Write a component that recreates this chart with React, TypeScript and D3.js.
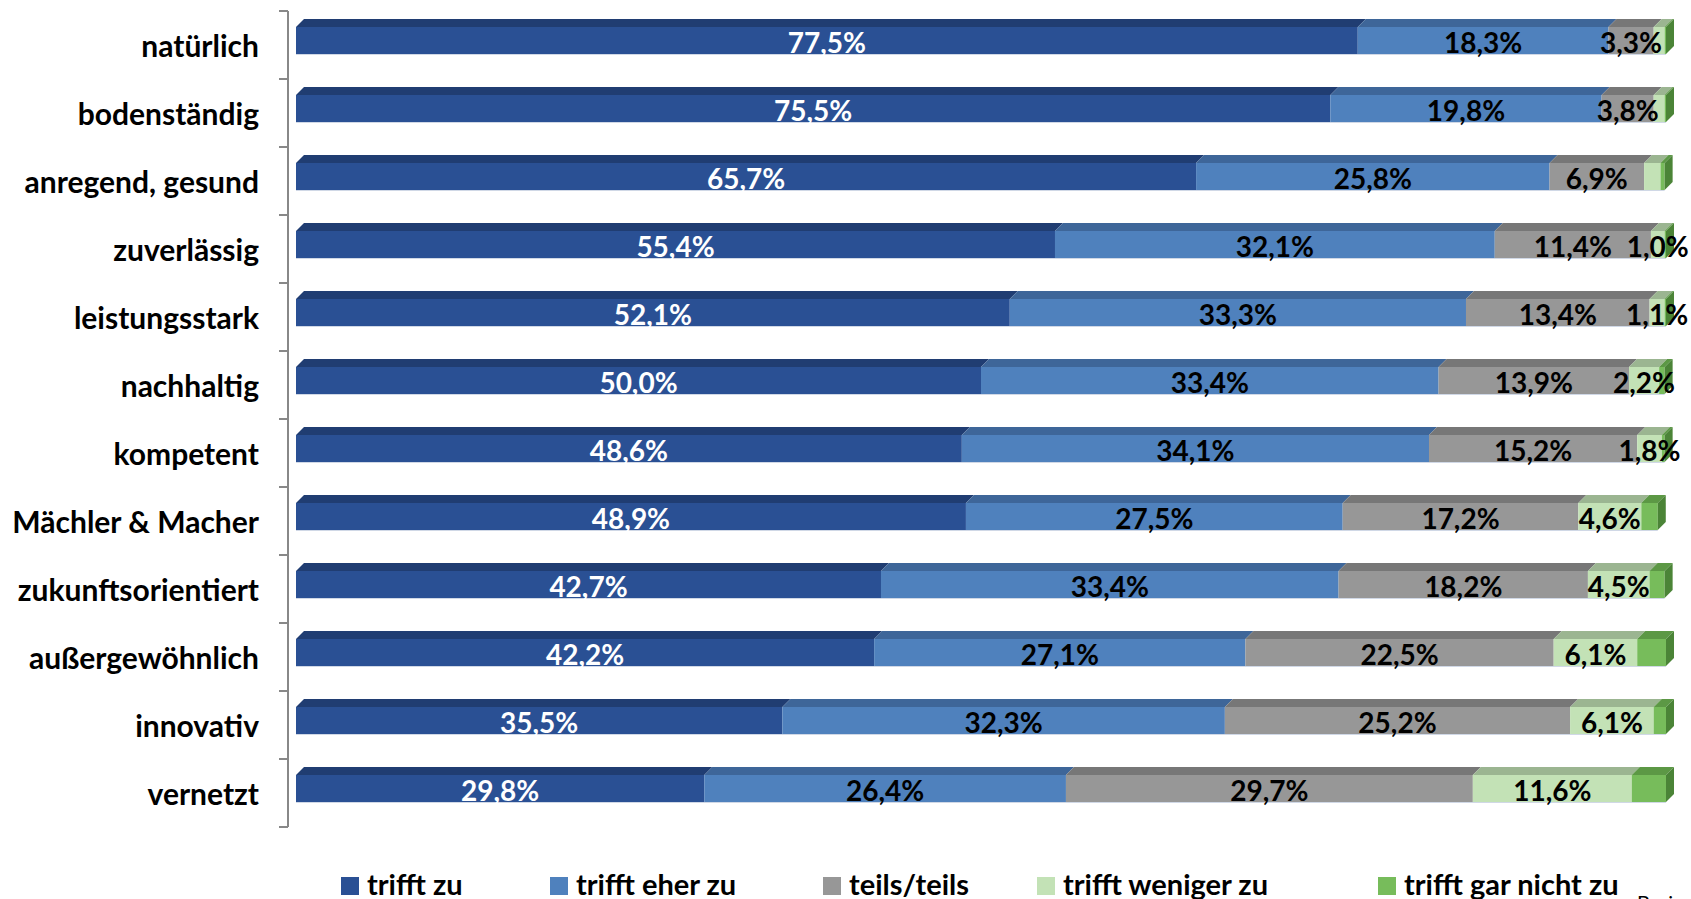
import React from "react";
import * as d3 from "d3";

const categories = [
  "natürlich",
  "bodenständig",
  "anregend, gesund",
  "zuverlässig",
  "leistungsstark",
  "nachhaltig",
  "kompetent",
  "Mächler & Macher",
  "zukunftsorientiert",
  "außergewöhnlich",
  "innovativ",
  "vernetzt",
];

const seriesNames = ["trifft zu", "trifft eher zu", "teils/teils", "trifft weniger zu", "trifft gar nicht zu"];

const triffZu = [77.5, 75.5, 65.7, 55.4, 52.1, 50.0, 48.6, 48.9, 42.7, 42.2, 35.5, 29.8];
const eherZu = [18.3, 19.8, 25.8, 32.1, 33.3, 33.4, 34.1, 27.5, 33.4, 27.1, 32.3, 26.4];
const teilsTeils = [3.3, 3.8, 6.9, 11.4, 13.4, 13.9, 15.2, 17.2, 18.2, 22.5, 25.2, 29.7];
const wenigerZu = [0.8, 0.8, 1.2, 1.0, 1.1, 2.2, 1.8, 4.6, 4.5, 6.1, 6.1, 11.6];
const garNichtZu = [0.1, 0.1, 0.3, 0.1, 0.1, 0.4, 0.2, 1.2, 1.1, 2.1, 0.9, 2.5];

// which values carry a data label (per series)
const showLabel = [
  categories.map(() => true),
  categories.map(() => true),
  categories.map(() => true),
  [false, false, false, true, true, true, true, true, true, true, true, true],
  categories.map(() => false),
];

const seriesValues = [triffZu, eherZu, teilsTeils, wenigerZu, garNichtZu];

const frontColors = ["#2a5094", "#4f81bd", "#979797", "#c3e2b6", "#77bc5b"];
const topColors = ["#203d72", "#3e6699", "#777777", "#9bb591", "#5c9845"];
const sideColor = "#4b8437";
const labelColors = ["#ffffff", "#000000", "#000000", "#000000", "#000000"];

const FONT = "Lato, 'Open Sans', sans-serif";

export default function App() {
  const W = 1691;
  const H = 899;
  const y = d3.scaleBand<string>().domain(categories).range([11, 827]).paddingInner(0);
  const x = d3.scaleLinear().domain([0, 100]).range([296, 1666]);
  const barH = 27;
  const barOff = 16;
  const dx = 8;
  const dy = 8;

  const rows = categories.map((cat, i) => {
    let acc = 0;
    const segs = seriesValues.map((vals, s) => {
      const v = vals[i];
      const x0 = x(acc);
      acc += v;
      const x1 = x(acc);
      return { s, v, x0, x1 };
    });
    return { cat, i, segs, top: (y(cat) as number) + barOff };
  });

  const legendX = [341, 550, 823, 1037, 1378];

  return (
    <div style={{ position: "absolute", left: 0, top: 0, width: W, height: H, overflow: "hidden", background: "#fff" }}>
      <svg width={W} height={H} style={{ display: "block" }}>
        <rect x={0} y={0} width={W} height={H} fill="#fff" />
        {/* axis */}
        <line x1={288} x2={288} y1={y.range()[0]} y2={y.range()[1]} stroke="#888" strokeWidth={2} />
        {[...categories.map((c) => y(c) as number), y.range()[1]].map((t, k) => (
          <line key={k} x1={279} x2={288} y1={t} y2={t} stroke="#888" strokeWidth={2} />
        ))}
        {/* category labels */}
        {categories.map((c) => (
          <text
            key={c}
            x={259}
            y={(y(c) as number) + y.bandwidth() / 2}
            textAnchor="end"
            dominantBaseline="central"
            fontFamily={FONT}
            fontWeight="bold"
            fontSize={30}
            fill="#000"
          >
            {c}
          </text>
        ))}
        {/* bars */}
        {rows.map((r) => (
          <g key={r.cat}>
            {r.segs.map((sg) => (
              <g key={sg.s}>
                <polygon
                  points={`${sg.x0},${r.top} ${sg.x0 + dx},${r.top - dy} ${sg.x1 + dx},${r.top - dy} ${sg.x1},${r.top}`}
                  fill={topColors[sg.s]}
                />
                <rect x={sg.x0} y={r.top} width={Math.max(0, sg.x1 - sg.x0)} height={barH} fill={frontColors[sg.s]} />
              </g>
            ))}
            {(() => {
              const last = r.segs[r.segs.length - 1];
              return (
                <polygon
                  points={`${last.x1},${r.top} ${last.x1 + dx},${r.top - dy} ${last.x1 + dx},${r.top + barH - dy} ${last.x1},${r.top + barH}`}
                  fill={sideColor}
                />
              );
            })()}
            <line x1={r.segs[0].x0} x2={r.segs[4].x1} y1={r.top + barH + 0.5} y2={r.top + barH + 0.5} stroke="#d0d8e6" strokeWidth={1} />
            {r.segs.map((sg) =>
              showLabel[sg.s][r.i] ? (
                <text
                  key={"l" + sg.s}
                  x={(sg.x0 + sg.x1) / 2}
                  y={r.top + barH / 2 + 1}
                  textAnchor="middle"
                  dominantBaseline="central"
                  fontFamily={FONT}
                  fontWeight="bold"
                  fontSize={28}
                  fill={labelColors[sg.s]}
                >
                  {sg.v.toFixed(1).replace(".", ",") + "%"}
                </text>
              ) : null
            )}
          </g>
        ))}
        {/* legend */}
        {seriesNames.map((n, s) => (
          <g key={n}>
            <rect x={legendX[s]} y={877} width={18} height={18} fill={frontColors[s]} />
            <text x={legendX[s] + 26} y={895} fontFamily={FONT} fontWeight="bold" fontSize={29} fill="#000">
              {n}
            </text>
          </g>
        ))}
        <text x={1637} y={910} fontFamily={FONT} fontSize={20} fill="#000">
          Basis: n = …
        </text>
      </svg>
    </div>
  );
}
